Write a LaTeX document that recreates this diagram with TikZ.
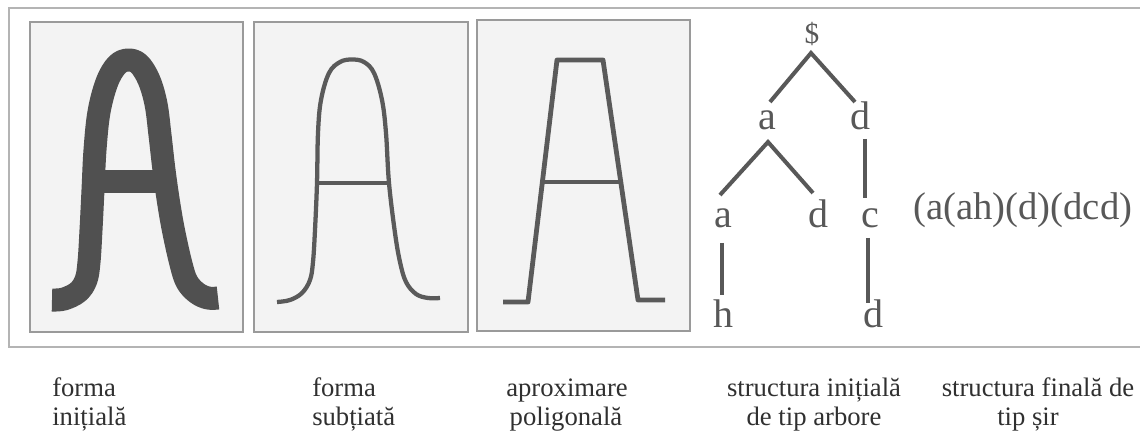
\documentclass[tikz,border=0pt]{standalone}
\usepackage{fontspec}
\setmainfont{Liberation Serif}
\usetikzlibrary{calc}
\definecolor{frameline}{HTML}{B4B4B4}
\definecolor{boxline}{HTML}{9A9A9A}
\definecolor{boxfill}{HTML}{F3F3F3}
\definecolor{thickink}{HTML}{505050}
\definecolor{thinink}{HTML}{5A5A5A}
\definecolor{treeink}{HTML}{585858}
\definecolor{captink}{HTML}{303030}
\tikzset{
  panel/.style={draw=boxline, line width=0.8pt, fill=boxfill},
  outer/.style={draw=frameline, line width=0.8pt},
  thickA/.style={draw=thickink, line width=17.25pt, line cap=butt, line join=round},
  thinA/.style={draw=thinink, line width=3.2pt, line cap=butt, line join=round},
  polyA/.style={draw=thinink, line width=3.6pt, line cap=butt, line join=round},
  treeletter/.style={anchor=base, inner sep=0pt, text=treeink, font=\fontsize{30}{30}\selectfont},
  treeedge/.style={draw=treeink, line width=3pt, line cap=butt, line join=miter},
  stringtext/.style={anchor=base west, inner sep=0pt, text=treeink, font=\fontsize{29}{29}\selectfont},
  caption/.style={anchor=base, inner sep=0pt, text=captink, font=\fontsize{20}{24}\selectfont},
  captionL/.style={caption, anchor=base west}
}
\begin{document}
\begin{tikzpicture}[x=0.75pt,y=-0.75pt]
\useasboundingbox (0,0) rectangle (1140,431);
\fill[white] (0,0) rectangle (1140,431);

% outer frame
\draw[outer] (1140,8) -- (9,8) -- (9,347) -- (1140,347);

% panels
\draw[panel] (30,22) rectangle (243,332);
\draw[panel] (254,22) rectangle (468,332);
\draw[panel] (477,20) rectangle (690,331);

% thick A
\draw[thickA] plot[smooth, tension=0.6] coordinates {
 (52,300) (64,299) (78,292) (86,280) (89,262) (91,230) (93,190) (95,150)
 (99,112) (107,82) (117,65) (128,60) (139,64) (149,80) (156,104) (160,135)
 (164,170) (169,205) (174,233) (181,264) (187,282) (197,293) (208,298) (218,298)};
\draw[thickA] (92,181.5) -- (166,181.5);

% thin A
\draw[thinA] plot[smooth, tension=0.6] coordinates {
 (277,302) (290,300) (302,293) (310,280) (313,262) (315,230) (317,183)
 (318,133) (321,100) (329,73) (340,62) (352,59.5) (364,62) (374,73) (382,100)
 (386,133) (389,183) (395,233) (400,262) (406,282) (416,294) (428,298) (440,298)};
\draw[thinA] (317,183) -- (389,183);

% polygonal A
\draw[polyA] (503,302) -- (528,302) -- (557,60) -- (603,60) -- (638,300) -- (665,300);
\draw[polyA] (542.4,182) -- (620.8,182);

% tree
\node[treeletter, font=\fontsize{22}{22}\selectfont] (S) at (812,44) {\$};
\node[treeletter] (A1) at (767,130) {a};
\node[treeletter] (D1) at (860,130) {d};
\node[treeletter] (A2) at (723,228) {a};
\node[treeletter] (D2) at (818,228) {d};
\node[treeletter] (C) at (870,228) {c};
\node[treeletter] (H) at (723,328) {h};
\node[treeletter] (D3) at (873,328) {d};

\draw[treeedge] ($(A1.base)+(3,-28)$) -- ($(S.base)+(-1,9)$) -- ($(D1.base)+(-5,-28)$);
\draw[treeedge] ($(A2.base)+(-3,-33)$) -- ($(A1.base)+(1,12)$) -- ($(D2.base)+(-5,-35)$);
\draw[treeedge] ($(D1.base)+(5,9)$) -- ($(C.base)+(-5,-30)$);
\draw[treeedge] ($(A2.base)+(-1,15)$) -- ($(H.base)+(-1,-33)$);
\draw[treeedge] ($(C.base)+(-2,10)$) -- ($(D3.base)+(-5,-25)$);

\node[stringtext] (str) at (913,220) {(a(ah)(d)(dcd)};

% captions
\node[captionL] (c1a) at (52,396) {forma};
\node[captionL] (c1b) at (52,425) {inițială};
\node[captionL] (c2a) at (312,396) {forma};
\node[captionL] (c2b) at (312,425) {subțiată};
\node[caption] (c3a) at (567,396) {aproximare};
\node[caption] (c3b) at (566,425) {poligonală};
\node[caption] (c4a) at (814,396) {structura inițială};
\node[caption] (c4b) at (814,425) {de tip arbore};
\node[caption] (c5a) at (1038,396) {structura finală de};
\node[caption] (c5b) at (1028,425) {tip șir};
\end{tikzpicture}
\end{document}
